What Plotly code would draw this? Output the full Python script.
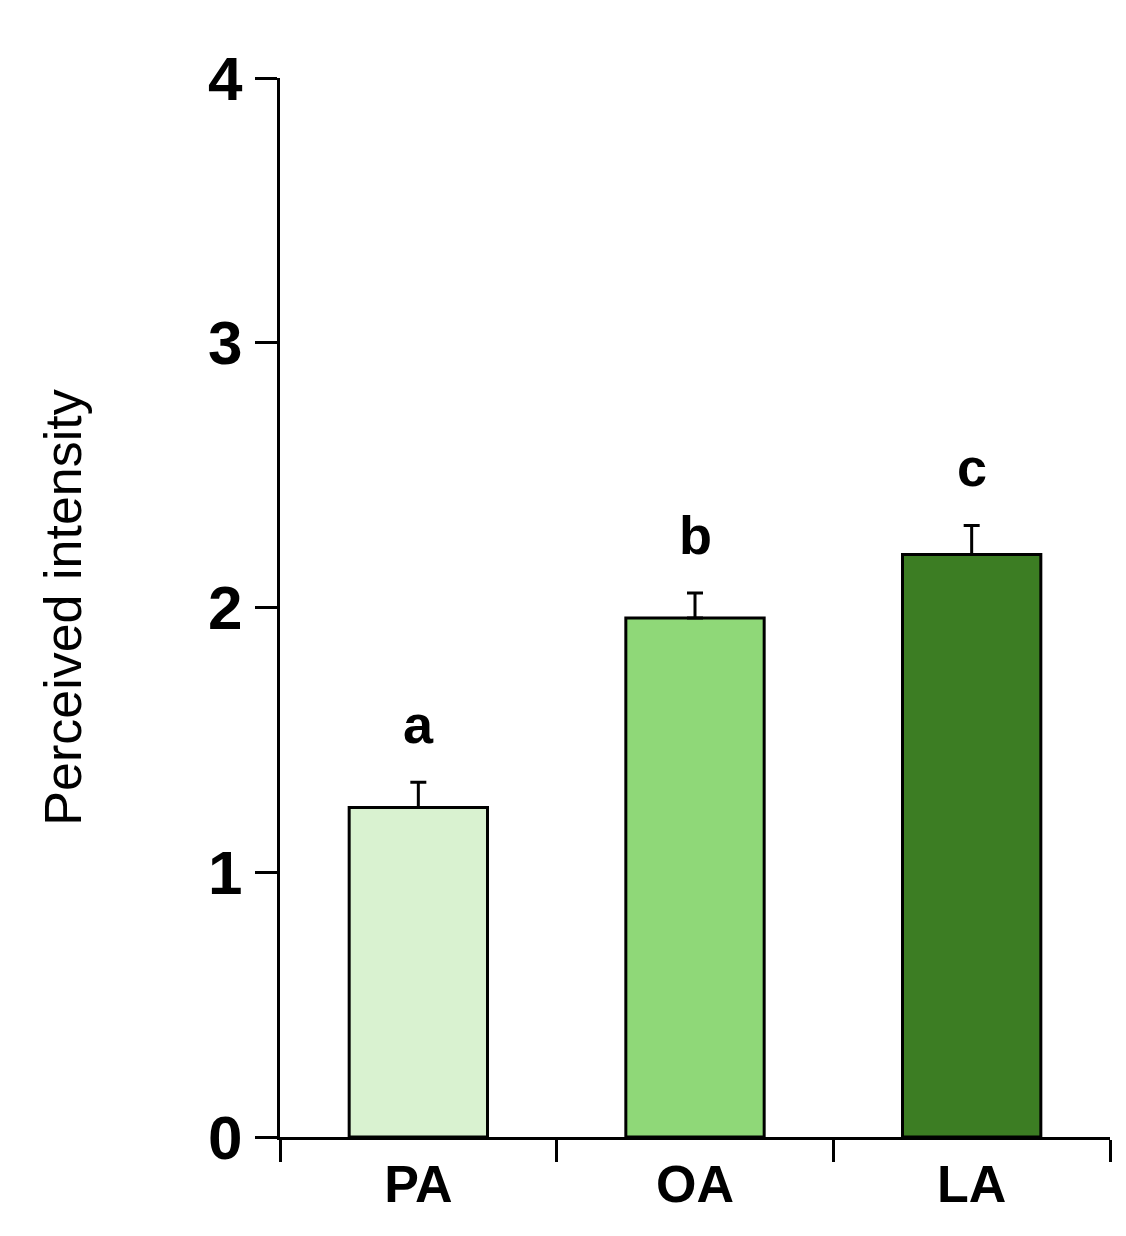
import plotly.graph_objects as go

categories = ["PA", "OA", "LA"]
means = [1.245, 1.96, 2.20]
errors = [0.095, 0.095, 0.11]
letters = ["a", "b", "c"]
colors = ["#d9f2d0", "#8fd878", "#3c7d23"]

fig = go.Figure()
fig.add_trace(go.Bar(
    x=categories, y=means, width=0.5,
    marker=dict(color=colors, line=dict(color="black", width=3)),
    error_y=dict(type="data", array=errors, arrayminus=[0, 0, 0], symmetric=False,
                 color="black", thickness=3, width=8),
))
for c, m, e, l in zip(categories, means, errors, letters):
    fig.add_annotation(x=c, y=m + e, text="<b>%s</b>" % l, showarrow=False,
                       yshift=58, font=dict(size=54, color="black"))

fig.update_layout(
    width=1126, height=1236, plot_bgcolor="white", paper_bgcolor="white",
    margin=dict(l=272, r=24, t=70, b=107), showlegend=False,
    font=dict(family="Liberation Sans, Arial", color="black"),
)
fig.update_xaxes(showline=True, linecolor="black", linewidth=3, ticks="outside",
                 tickson="boundaries", ticklen=22, tickwidth=3, tickcolor="black",
                 tickfont=dict(size=52, weight="bold"), range=[-0.5, 2.5])
fig.update_yaxes(range=[0, 4], tickvals=[0, 1, 2, 3, 4], showline=True, linecolor="black",
                 linewidth=3, ticks="outside", ticklen=22, tickwidth=3, tickcolor="black",
                 tickfont=dict(size=62, weight="bold"),
                 showgrid=False, zeroline=False,
                 title=dict(text="Perceived intensity", font=dict(size=52), standoff=110))
fig.write_html("out.html")
